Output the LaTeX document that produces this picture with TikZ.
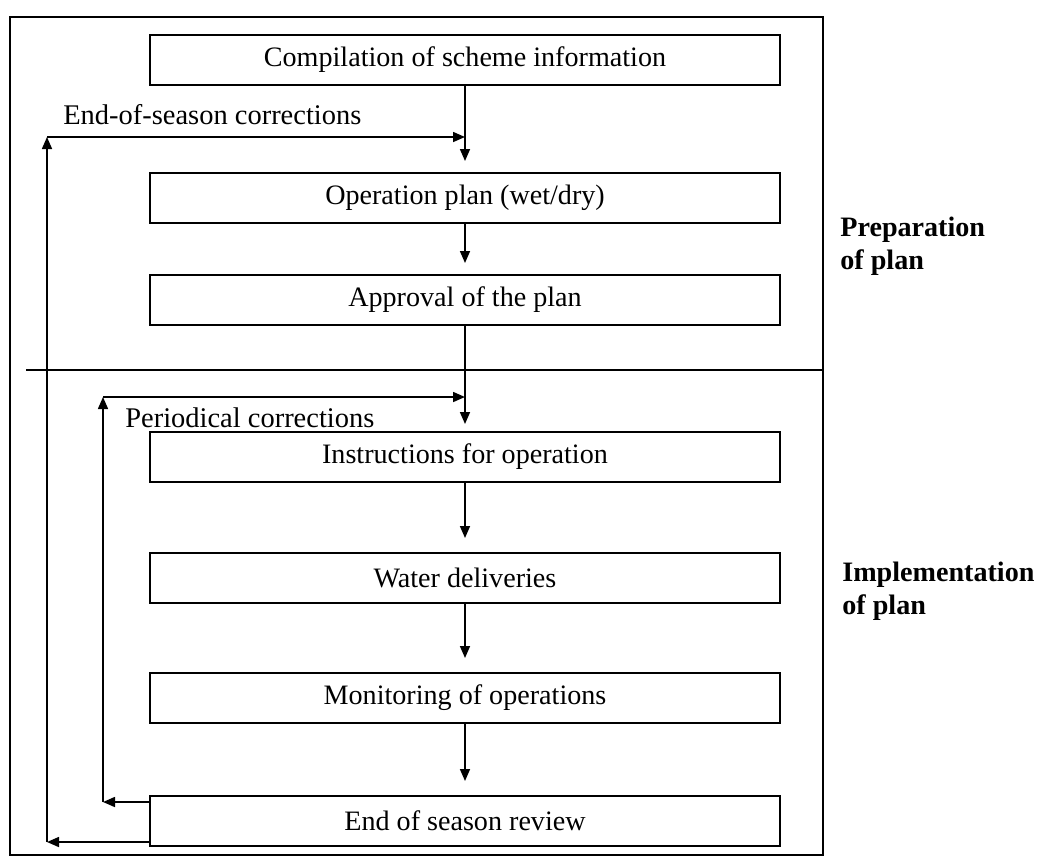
\documentclass[tikz,border=0pt]{standalone}
\usepackage{fontspec}
\setmainfont{Liberation Serif}
\usepackage{tikz}
\usetikzlibrary{arrows.meta,positioning,calc}
\tikzset{
  % Base box
  BX/.style={rectangle,draw,line width=1.1pt,outer sep=0pt,
             minimum width=12.6cm,minimum height=1cm,
             text centered,font=\fontsize{16}{18}\selectfont},
  % Arrow
  arr/.style={-{Triangle[length=2.4mm,width=2mm]},line width=0.9pt},
  % Frame lines
  FR/.style={line width=1.1pt},
  % Label styles
  LB/.style={inner sep=0pt,font=\fontsize{16.2}{18}\selectfont},
  SL/.style={align=left,anchor=west,inner sep=0pt,
             font=\fontsize{16}{19}\selectfont\bfseries}
}

\begin{document}
\begin{tikzpicture}
  \useasboundingbox (0,0) rectangle (20.78,-17.16);
  \node[BX] (compile) at (9.3,-1.2) {Compilation of scheme information};
  \node[BX,below=1.76cm of compile] (plan) {Operation plan (wet/dry)};
  \node[BX,below=1.04cm of plan] (approve) {Approval of the plan};
  \node[BX,below=2.14cm of approve] (instruct) {Instructions for operation};
  \node[BX,below=1.42cm of instruct] (deliver) {Water deliveries};
  \node[BX,below=1.4cm of deliver] (monitor) {Monitoring of operations};
  \node[BX,below=1.46cm of monitor] (review) {End of season review};
  % frame and divider
  \draw[FR] (0.2,-0.34) rectangle (16.46,-17.1);
  \draw[FR] (0.52,-7.4) -- (16.46,-7.4);
  % side labels
  \node[SL] (prep) at ($(plan.east)!0.5!(approve.east)+(1.2,0.06)$) {Preparation\\of plan};
  \node[SL,right=1.24cm of deliver,yshift=-0.26cm] (impl) {Implementation\\of plan};
  % main flow
  \draw[arr,shorten >=2.4mm] (compile) -- (plan);
  \draw[arr,shorten >=2.4mm] (plan) -- (approve);
  \draw[arr,shorten >=1.6mm] (approve) -- (instruct);
  \draw[arr,shorten >=3mm] (instruct) -- (deliver);
  \draw[arr,shorten >=3mm] (deliver) -- (monitor);
  \draw[arr,shorten >=3mm] (monitor) -- (review);
  % feedback loops
  \coordinate (eos) at ($(compile.south)+(0,-1.04)$);
  \coordinate (pc) at ($(approve.south)+(0,-1.44)$);
  \coordinate (o1) at ($(review.south west)+(0,0.08)$);
  \coordinate (o2) at ($(o1)+(-2.06,0)$);
  \coordinate (o3) at (o2 |- eos);
  \coordinate (i1) at ($(review.north west)+(0,-0.12)$);
  \coordinate (i2) at ($(i1)+(-0.94,0)$);
  \coordinate (i3) at (i2 |- pc);
  \draw[arr] (o1) -- (o2);
  \draw[arr] (o2) -- (o3);
  \draw[arr] (o3) -- (eos);
  \draw[arr] (i1) -- (i2);
  \draw[arr] (i2) -- (i3);
  \draw[arr] (i3) -- (pc);
  \node[LB,above right=0.24cm and 0.32cm of o3] (eoslbl) {End-of-season corrections};
  \node[LB,below right=0.2cm and 0.44cm of i3] (pclbl) {Periodical corrections};
\end{tikzpicture}
\end{document}
